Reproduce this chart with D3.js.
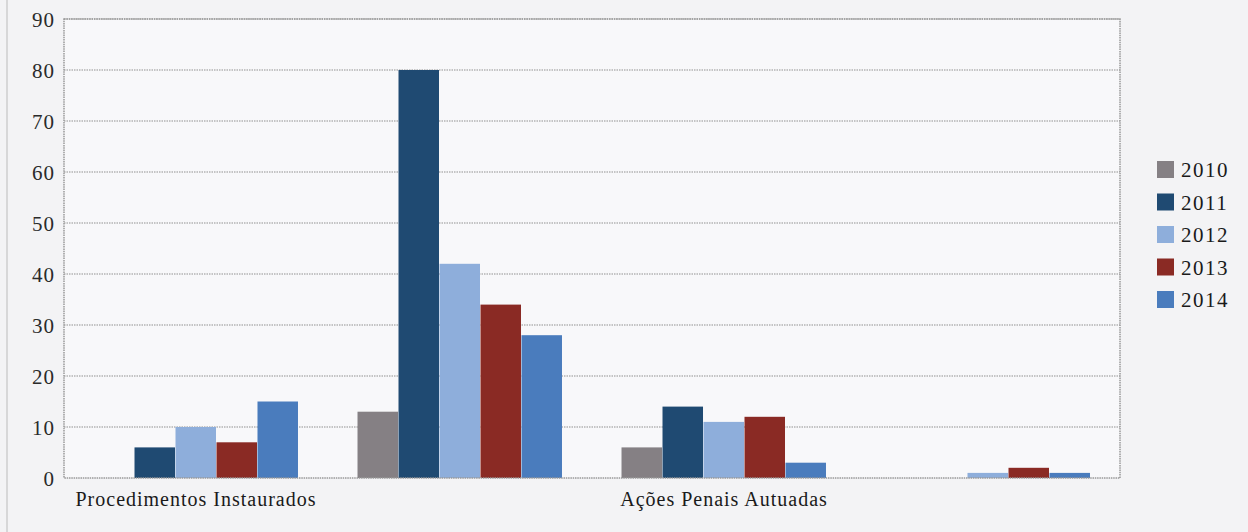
<!DOCTYPE html>
<html><head><meta charset="utf-8">
<script src="https://cdn.jsdelivr.net/npm/d3@7"></script>
<style>
html,body{margin:0;padding:0;background:#f3f3f5;}
svg{display:block;font-family:"Liberation Serif","DejaVu Serif",serif;}
</style></head>
<body><svg id="c" width="1248" height="532"></svg>
<script>
const categories = ["g1","g2","g3","g4"];
const tickLabels = ["Procedimentos Instaurados","","Ações Penais Autuadas",""];
const years = ["2010","2011","2012","2013","2014"];
const v2010 = [0,13,6,0];
const v2011 = [6,80,14,0];
const v2012 = [10,42,11,1];
const v2013 = [7,34,12,2];
const v2014 = [15,28,3,1];
const seriesValues = [v2010,v2011,v2012,v2013,v2014];
const colors = ["#858084","#1f4a72","#8eaedb","#8a2a24","#4a7cbd"];
const yTicks = [0,10,20,30,40,50,60,70,80,90];

const svg = d3.select("#c");
const m = {l:64, r:1120, t:19, b:478};
const x0 = d3.scaleBand().domain(categories).range([m.l,m.r]).paddingInner(0).paddingOuter(0);
const x1 = d3.scaleBand().domain(years).range([0,x0.bandwidth()]).paddingOuter(0.72).paddingInner(0);
const y = d3.scaleLinear().domain([0,90]).range([m.b,m.t]);

// plot background
svg.append("rect").attr("x",m.l).attr("y",m.t).attr("width",m.r-m.l).attr("height",m.b-m.t)
  .attr("fill","#f8f8fa");

// grid
svg.append("g").selectAll("line").data(yTicks.filter(d=>d>0)).join("line")
  .attr("x1",m.l).attr("x2",m.r).attr("y1",d=>y(d)).attr("y2",d=>y(d))
  .attr("stroke","#8f8f8f").attr("stroke-width",1.2).attr("stroke-dasharray","1.5,1");

// bars
const g = svg.append("g");
years.forEach((yr,i)=>{
  g.selectAll(null).data(seriesValues[i].map((v,j)=>({v,c:categories[j]}))).join("rect")
    .attr("x",d=>x0(d.c)+x1(yr))
    .attr("width",x1.bandwidth()-0.5)
    .attr("y",d=>y(d.v))
    .attr("height",d=>y(0)-y(d.v))
    .attr("fill",colors[i]);
});

// border
svg.append("rect").attr("x",m.l).attr("y",m.t).attr("width",m.r-m.l).attr("height",m.b-m.t)
  .attr("fill","none").attr("stroke","#999").attr("stroke-width",1.5).attr("stroke-dasharray","1.5,0.8");

// y axis
const ya = svg.append("g").attr("transform",`translate(${m.l},0)`)
  .call(d3.axisLeft(y).tickValues(yTicks).tickSize(0).tickPadding(9))
  .attr("font-family","'Liberation Serif', serif").attr("font-size",21);
ya.select(".domain").remove();
ya.selectAll("text").attr("fill","#2a2a2a").attr("letter-spacing","1px").attr("dy","0.35em");

// x axis labels
const xa = svg.append("g").attr("transform",`translate(0,${m.b})`)
  .call(d3.axisBottom(x0).tickSize(0).tickPadding(14).tickFormat((d,i)=>tickLabels[i]))
  .attr("font-family","'Liberation Serif', serif").attr("font-size",20);
xa.select(".domain").remove();
xa.selectAll("text").attr("fill","#1a1a1a").attr("letter-spacing","1px");

// legend
const lg = svg.append("g");
years.forEach((yr,i)=>{
  const yy = 169 + i*32.5;
  lg.append("rect").attr("x",1157).attr("y",yy-8).attr("width",17).attr("height",17).attr("fill",colors[i]);
  lg.append("text").attr("x",1181).attr("y",yy+8).attr("font-size",21).attr("fill","#1a1a1a")
    .attr("letter-spacing","1.5px").text(yr);
});

// scan edge line
svg.append("line").attr("x1",7).attr("x2",7).attr("y1",0).attr("y2",532).attr("stroke","#bbb").attr("stroke-width",1);
</script></body></html>
